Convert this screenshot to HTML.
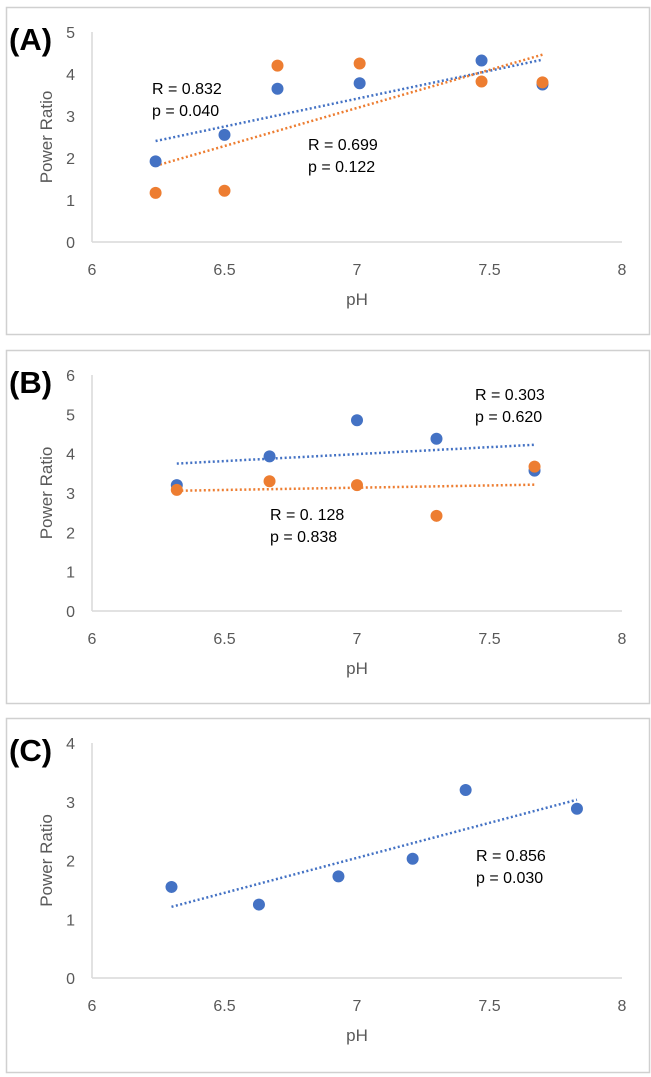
<!DOCTYPE html>
<html><head><meta charset="utf-8"><style>
html,body{margin:0;padding:0;background:#fff;width:651px;height:1077px;overflow:hidden}
svg{display:block}
text{font-family:"Liberation Sans Narrow","Liberation Sans",sans-serif}
</style></head><body>
<svg id="s" width="651" height="1077"></svg>
<script>
const aX=[6.24,6.5,6.7,7.01,7.47,7.7];
const aBlue=[1.92,2.55,3.65,3.78,4.32,3.75];
const aOrange=[1.17,1.22,4.2,4.25,3.82,3.8];
const bX=[6.32,6.67,7.0,7.3,7.67];
const bBlue=[3.2,3.93,4.85,4.38,3.57];
const bOrange=[3.08,3.3,3.2,2.42,3.67];
const cX=[6.3,6.63,6.93,7.21,7.41,7.83];
const cBlue=[1.55,1.25,1.73,2.03,3.2,2.88];
const xTicks=[6,6.5,7,7.5,8];
const xTickLabels=["6","6.5","7","7.5","8"];
const aYTicks=[0,1,2,3,4,5];
const bYTicks=[0,1,2,3,4,5,6];
const cYTicks=[0,1,2,3,4];
const BLUE="#4472C4",ORANGE="#ED7D31";
const NS="http://www.w3.org/2000/svg";
const svg=document.getElementById('s');
function mk(tag,attrs,parent,txt){const e=document.createElementNS(NS,tag);for(const k in attrs)e.setAttribute(k,attrs[k]);if(txt!==undefined)e.textContent=txt;(parent||svg).appendChild(e);return e;}
function reg(xs,ys){const n=xs.length;let mx=0,my=0;for(let i=0;i<n;i++){mx+=xs[i];my+=ys[i];}mx/=n;my/=n;let sxy=0,sxx=0;for(let i=0;i<n;i++){sxy+=(xs[i]-mx)*(ys[i]-my);sxx+=(xs[i]-mx)**2;}const b=sxy/sxx;return x=>my+b*(x-mx);}
function panel(id,box,y0,ymax,yTicks,xs,seriesList,label,notes){
  const g=mk('g',{});
  
  
  const fr=mk('rect',{x:box[0]+.5,y:box[1]+.5,width:box[2]-box[0],height:box[3]-box[1],fill:'#fff',stroke:'#d0d0d0','stroke-width':1.5},g);
  
  const L=92,R=622,yTop=y0-(ymax)*((y0-box[1]-25)/ymax);
  const sx=v=>L+(v-6)/2*(R-L);
  const sy=v=>y0-v/ymax*(y0-yTop);
  const ya=mk('line',{x1:L,y1:sy(ymax),x2:L,y2:y0,stroke:'#d9d9d9','stroke-width':1.5},g);
  
  const xa=mk('line',{x1:L,y1:y0,x2:R,y2:y0,stroke:'#d9d9d9','stroke-width':1.5},g);
  
  yTicks.forEach(t=>{const e=mk('text',{x:75,y:sy(t)+6,'text-anchor':'end','font-size':16,fill:'#595959'},g,String(t));
    });
  xTicks.forEach((t,i)=>{const e=mk('text',{x:sx(t),y:y0+33,'text-anchor':'middle','font-size':16,fill:'#595959'},g,xTickLabels[i]);
    });
  const xt=mk('text',{x:sx(7),y:y0+63,'text-anchor':'middle','font-size':17,fill:'#595959'},g,'pH');
  
  const cy=(sy(ymax)+y0)/2;
  const yt=mk('text',{x:0,y:0,'text-anchor':'middle','font-size':17,fill:'#595959',transform:`translate(52,${cy}) rotate(-90)`},g,'Power Ratio');
  
  const lb=mk('text',{x:9,y:box[1]+43,'font-size':31,'font-weight':'bold',fill:'#000'},g,label);
  
  seriesList.forEach(([ys,col,nm])=>{
    const f=reg(xs,ys);const x1=Math.min(...xs),x2=Math.max(...xs);
    const tl=mk('line',{x1:sx(x1),y1:sy(f(x1)),x2:sx(x2),y2:sy(f(x2)),stroke:col,'stroke-width':2.5,'stroke-dasharray':'2 2.5'},g);
    
  });
  seriesList.forEach(([ys,col,nm])=>{
    ys.forEach((v,i)=>{const c=mk('circle',{cx:sx(xs[i]),cy:sy(v),r:6,fill:col},g);
      });
  });
  notes.forEach(([x,y,t])=>{const e=mk('text',{x:x,y:y,'font-size':16,fill:'#000'},g,t);
    });
}
panel('a',[6,7,649,334],242,5,aYTicks,aX,[[aBlue,BLUE,'blue-series'],[aOrange,ORANGE,'orange-series']],'(A)',
  [[152,94,'R = 0.832'],[152,116,'p = 0.040'],[308,150,'R = 0.699'],[308,172,'p = 0.122']]);
panel('b',[6,350,649,703],611,6,bYTicks,bX,[[bBlue,BLUE,'blue-series'],[bOrange,ORANGE,'orange-series']],'(B)',
  [[475,400,'R = 0.303'],[475,422,'p = 0.620'],[270,520,'R = 0. 128'],[270,542,'p = 0.838']]);
panel('c',[6,718,649,1072],978,4,cYTicks,cX,[[cBlue,BLUE,'blue-series']],'(C)',
  [[476,861,'R = 0.856'],[476,883,'p = 0.030']]);
</script>
</body></html>
